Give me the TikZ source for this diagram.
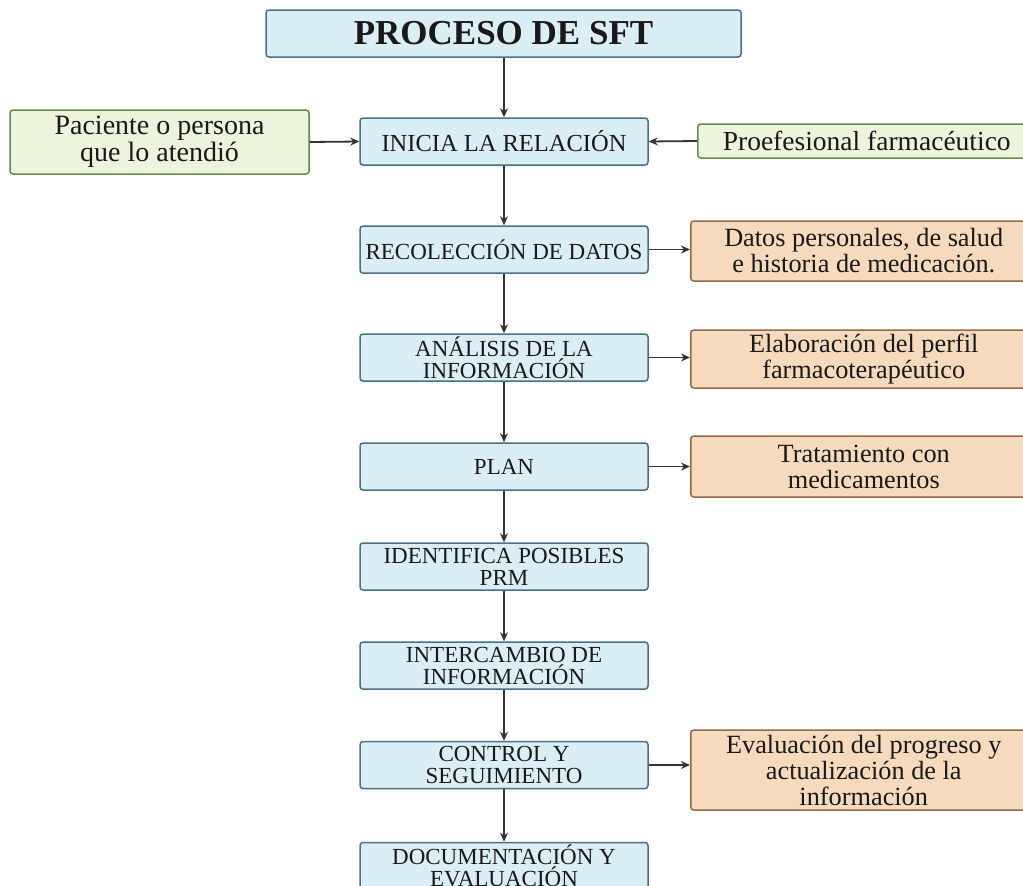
\documentclass[tikz,border=0pt]{standalone}
\usepackage{fontspec}
\setmainfont{Liberation Serif}
\usetikzlibrary{arrows.meta}
\definecolor{bfill}{RGB}{218,238,246}
\definecolor{bdraw}{RGB}{70,115,130}
\definecolor{gfill}{RGB}{236,244,220}
\definecolor{gdraw}{RGB}{105,135,75}
\definecolor{ofill}{RGB}{246,218,190}
\definecolor{odraw}{RGB}{150,105,70}
\tikzset{
  box/.style={draw, line width=1.5pt, rounded corners=3pt, inner sep=0pt, align=center, text=black!90},
  bluebox/.style={box, fill=bfill, draw=bdraw, minimum width=288pt, minimum height=47pt, font=\fontsize{23}{22}\selectfont},
  greenbox/.style={box, fill=gfill, draw=gdraw, font=\fontsize{28}{27}\selectfont},
  orangebox/.style={box, fill=ofill, draw=odraw, font=\fontsize{26.3}{26}\selectfont},
  arr/.style={line width=1.8pt, draw=black!80, -{Stealth[length=9pt,width=8pt]}}
}
\begin{document}
\begin{tikzpicture}[x=1pt,y=-1pt]
\useasboundingbox (0,0) rectangle (1023,886);
\node[box, fill=bfill, draw=bdraw, minimum width=475pt, minimum height=47pt, font=\fontsize{35}{36}\selectfont\bfseries] (title) at (503.5,33.5) {PROCESO DE SFT};
\node[bluebox, font=\fontsize{24.5}{22}\selectfont] (n1) at (504,141.5) {INICIA LA RELACIÓN};
\node[bluebox] (n2) at (504,249.5) {RECOLECCIÓN DE DATOS};
\node[bluebox] (n3) at (504,357.5) {ANÁLISIS DE LA\\INFORMACIÓN};
\node[bluebox] (n4) at (504,466.5) {PLAN};
\node[bluebox] (n5) at (504,566.5) {IDENTIFICA POSIBLES\\PRM};
\node[bluebox] (n6) at (504,665.5) {INTERCAMBIO DE\\INFORMACIÓN};
\node[bluebox] (n7) at (504,765) {CONTROL Y\\SEGUIMIENTO};
\node[bluebox] (n8) at (504,866) {DOCUMENTACIÓN Y\\EVALUACIÓN};
\node[greenbox, minimum width=299pt, minimum height=64pt] (g1) at (159.5,142) {Paciente o persona\\que lo atendió};
\node[greenbox, font=\fontsize{27.5}{27}\selectfont, minimum width=338pt, minimum height=34pt, anchor=west] (g2) at (697,141) {Proefesional farmacéutico};
\node[orangebox, minimum width=346pt, minimum height=60pt, anchor=west] (o1) at (690,251) {Datos personales, de salud\\e historia de medicación.};
\node[orangebox, minimum width=346pt, minimum height=58pt, anchor=west] (o2) at (690,359) {Elaboración del perfil\\farmacoterapéutico};
\node[orangebox, minimum width=346pt, minimum height=61pt, anchor=west] (o3) at (690,466.5) {Tratamiento con\\medicamentos};
\node[orangebox, minimum width=346pt, minimum height=80pt, anchor=west] (o4) at (690,770) {Evaluación del progreso y\\actualización de la\\información};
\draw[arr] (title.south -| n1) -- (n1);
\draw[arr] (n1) -- (n2);
\draw[arr] (n2) -- (n3);
\draw[arr] (n3) -- (n4);
\draw[arr] (n4) -- (n5);
\draw[arr] (n5) -- (n6);
\draw[arr] (n6) -- (n7);
\draw[arr] (n7) -- (n8);
\draw[arr] (g1.east) -- (n1.west);
\draw[arr] (g2.west) -- (n1.east);
\draw[arr] (n2.east) -- (o1.west |- n2.east);
\draw[arr] (n3.east) -- (o2.west |- n3.east);
\draw[arr] (n4.east) -- (o3.west |- n4.east);
\draw[arr] (n7.east) -- (o4.west |- n7.east);
\end{tikzpicture}
\end{document}
